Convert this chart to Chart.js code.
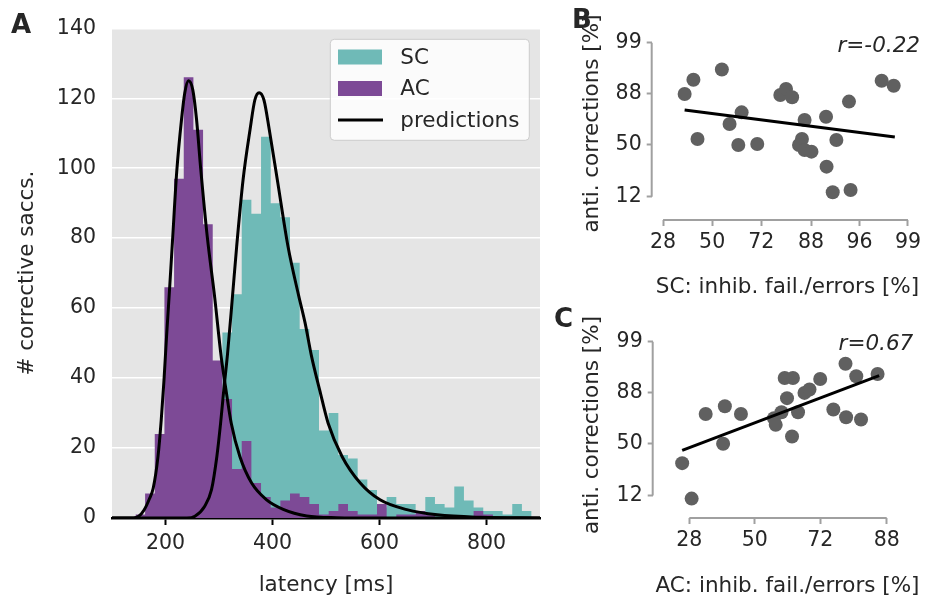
<!DOCTYPE html>
<html><head><meta charset="utf-8">
<script src="https://cdn.jsdelivr.net/npm/chart.js@4.4.1/dist/chart.umd.min.js"></script>
<style>
html,body{margin:0;padding:0;background:#fff;}
body{width:925px;height:598px;position:relative;overflow:hidden;font-family:'DejaVu Sans';}
canvas{position:absolute;}
#cA{left:0;top:0;}
#cB{left:555px;top:0;}
#cC{left:555px;top:300px;}
.panel{position:absolute;font-family:'DejaVu Sans';font-weight:bold;font-size:26px;color:#262626;line-height:26px;}
</style></head>
<body>
<canvas id="cA" width="555" height="598"></canvas>
<canvas id="cB" width="370" height="300"></canvas>
<canvas id="cC" width="370" height="298"></canvas>
<div class="panel" style="left:11px;top:11px;">A</div>
<div class="panel" style="left:572px;top:6px;">B</div>
<div class="panel" style="left:554px;top:305px;">C</div>
<script>
// ---------------- DATA ----------------
// Panel A: histogram of corrective saccade latencies (ms), common bins
const binStart = 143.8;   // ms, left edge of first bin
const binWidth = 18.06;   // ms
const acCounts = [1,7,24,66,97,126,111,84,45,34,14,22,10,6,3,5,7,6,4,1,2,4,2,1,1,4,0,1,1,2,1,0,0,0,0,2,1,0,0,0,0];
const scCounts = [0,0,0,0,0,0,1,6,20,53,64,91,87,109,90,86,73,54,48,25,30,18,17,11,8,3,6,4,4,1,6,4,3,9,5,3,2,2,1,4,2];
// model predictions
const acPredLatency = [100,140,150,160,170,177,186,192,197,202,207,213,221,230,236,243,251,258,266,278,292,304,313,323,339,361,389,420,464,520,600,900];
const acPredCount   = [0,0,0.5,2.3,5.5,8.5,17.6,28,39,52,64,79,99,114,121.5,125,122.4,114,99.5,80.5,63,46.2,36.7,27,17.6,10,5.2,2.5,0.6,0.1,0,0];
const scPredLatency = [100,240,255,273,286,296,303,309,316,325,333,345,358,367,375,384,394,409,429,449,461,473,488,504,530,564,601,651,708,789,900];
const scPredCount   = [0,0,0.5,3.3,8.1,17.6,27.1,36.7,47,63,77.6,96.7,111,119.5,121.6,119.5,111,96.7,77.6,63.5,55.7,46.2,36.7,27.1,17.6,10,5.2,2.4,0.9,0.2,0];
const aXTicks = [200,400,600,800];
const aYTicks = [0,20,40,60,80,100,120,140];
const legendLabels = ['SC','AC','predictions'];

// Panel B: SC inhibition failures/errors vs anti corrections (%)
const bX = [37.2,41.2,54.6,43.1,58.2,63.7,62.2,70.4,79.1,81.0,82.9,86.4,85.7,84.9,86.4,88.1,91.2,93.0,91.3,92.4,95.0,94.8,97.8,98.45];
const bY = [87.7,93.1,95.7,55.4,68.4,77.1,50.0,50.9,87.2,89.9,86.1,71.5,55.4,50.0,45.5,44.0,74.0,54.5,31.1,14.1,15.3,83.8,92.8,91.1];
const bFitX = [37.2,98.5];
const bFitY = [78.7,57.2];
const bXTicks = [28,50,72,88,96,99];
const bYTicks = [12,50,88,99];
const bR = 'r=-0.22';

// Panel C: AC inhibition failures/errors vs anti corrections (%)
const cX = [25.9,28.7,33.1,39.5,38.9,45.1,56.8,57.4,59.4,60.5,63.3,61.3,65.0,63.0,67.1,68.7,72.0,75.8,79.2,79.05,81.7,82.8,86.3];
const cY = [33.0,10.6,75.2,80.4,50.0,75.2,72.0,66.7,76.4,93.3,93.3,85.1,76.4,56.6,87.7,89.2,93.0,78.3,72.8,96.6,93.8,71.0,94.4];
const cFitX = [25.9,86.6];
const cFitY = [44.0,94.0];
const cXTicks = [28,50,72,88];
const cYTicks = [12,50,88,99];
const cR = 'r=0.67';

const yTitleBC = 'anti. corrections [%]';
const xTitleB = 'SC: inhib. fail./errors [%]';
const xTitleC = 'AC: inhib. fail./errors [%]';

// ---------------- HELPERS ----------------
// inverse normal CDF (probit), Acklam's approximation
function probit(p){
  const a=[-3.969683028665376e+01,2.209460984245205e+02,-2.759285104469687e+02,1.383577518672690e+02,-3.066479806614716e+01,2.506628277459239e+00];
  const b=[-5.447609879822406e+01,1.615858368580409e+02,-1.556989798598866e+02,6.680131188771972e+01,-1.328068155288572e+01];
  const c=[-7.784894002430293e-03,-3.223964580411365e-01,-2.400758277161838e+00,-2.549732539343734e+00,4.374664141464968e+00,2.938163982698783e+00];
  const d=[7.784695709041462e-03,3.224671290700398e-01,2.445134137142996e+00,3.754408661907416e+00];
  const pl=0.02425, ph=1-pl; let q,r;
  if(p<pl){q=Math.sqrt(-2*Math.log(p));return (((((c[0]*q+c[1])*q+c[2])*q+c[3])*q+c[4])*q+c[5])/((((d[0]*q+d[1])*q+d[2])*q+d[3])*q+1);}
  if(p<=ph){q=p-0.5;r=q*q;return (((((a[0]*r+a[1])*r+a[2])*r+a[3])*r+a[4])*r+a[5])*q/(((((b[0]*r+b[1])*r+b[2])*r+b[3])*r+b[4])*r+1);}
  q=Math.sqrt(-2*Math.log(1-p));return -(((((c[0]*q+c[1])*q+c[2])*q+c[3])*q+c[4])*q+c[5])/((((d[0]*q+d[1])*q+d[2])*q+d[3])*q+1);
}
const pz = v => probit(v/100);

Chart.defaults.font.family = "'DejaVu Sans'";
Chart.defaults.color = '#262626';

const TEXT = '#262626';
const AC_COLOR = '#7d4a96';
const SC_COLOR = '#6fbab7';
const TICK_FONT = {size:20.5};
const LABEL_FONT = {size:21.5};

function histPoints(counts){
  const pts = counts.map((c,i)=>({x: binStart + i*binWidth, y: c}));
  pts.push({x: binStart + counts.length*binWidth, y: counts[counts.length-1]});
  return pts;
}

const bgPlugin = {
  id:'plotBg',
  beforeDraw(chart){
    const {ctx, chartArea:a} = chart;
    ctx.save(); ctx.fillStyle = '#e5e5e5';
    ctx.fillRect(a.left, a.top, a.right-a.left, a.bottom-a.top);
    ctx.restore();
  }
};

const legendPlugin = {
  id:'boxLegend',
  afterDraw(chart){
    const {ctx, chartArea:a} = chart;
    const w = 199, h = 101;
    const left = a.right - 10.7 - w, top = a.top + 11;
    ctx.save();
    ctx.beginPath();
    ctx.roundRect(left, top, w, h, 4);
    ctx.fillStyle = 'rgba(255,255,255,0.85)';
    ctx.fill();
    ctx.strokeStyle = '#cccccc'; ctx.lineWidth = 1;
    ctx.stroke();
    ctx.font = "21.5px 'DejaVu Sans'";
    ctx.textBaseline = 'middle';
    ctx.fillStyle = TEXT;
    legendLabels.forEach((lab, i) => {
      const ds = chart.data.datasets.find(d => d.label === lab);
      const cy = top + 17.7 + i*31.5;
      const px = left + 7.7;
      if (ds.fill) {
        ctx.fillStyle = ds.backgroundColor;
        ctx.fillRect(px, cy-7.5, 44, 15);
      } else {
        ctx.strokeStyle = ds.borderColor; ctx.lineWidth = 3;
        ctx.beginPath(); ctx.moveTo(px, cy); ctx.lineTo(px+45, cy); ctx.stroke();
      }
      ctx.fillStyle = TEXT;
      ctx.fillText(lab, left + 70, cy + 1);
    });
    ctx.restore();
  }
};

// ---------------- PANEL A ----------------
new Chart(document.getElementById('cA'), {
  type:'line',
  data:{datasets:[
    {label:'predictions', data: acPredLatency.map((x,i)=>({x, y: acPredCount[i]})), borderColor:'#000', borderWidth:3,
     pointRadius:0, cubicInterpolationMode:'monotone', fill:false, order:0},
    {label:'predictions', data: scPredLatency.map((x,i)=>({x, y: scPredCount[i]})), borderColor:'#000', borderWidth:3,
     pointRadius:0, cubicInterpolationMode:'monotone', fill:false, order:0},
    {label:'AC', data: histPoints(acCounts), stepped:true, fill:'origin', backgroundColor:AC_COLOR, borderColor:AC_COLOR,
     borderWidth:0, pointRadius:0, order:1},
    {label:'SC', data: histPoints(scCounts), stepped:true, fill:'origin', backgroundColor:SC_COLOR, borderColor:SC_COLOR,
     borderWidth:0, pointRadius:0, order:2}
  ]},
  options:{
    responsive:false, animation:false, devicePixelRatio:1, events:[],
    layout:{padding:{top:28, right:15, bottom:0, left:0}},
    plugins:{legend:{display:false}, tooltip:{enabled:false}},
    scales:{
      x:{type:'linear', min:100, max:900, z:1,
         afterBuildTicks: s => { s.ticks = aXTicks.map(v=>({value:v})); },
         afterFit: s => { s.height = 80; },
         grid:{display:true, drawOnChartArea:false, drawTicks:true, tickLength:7, tickColor:'#000', tickWidth:2},
         border:{display:true, color:'#000', width:2.5},
         ticks:{font:TICK_FONT, color:TEXT, padding:6, autoSkip:false, maxRotation:0, callback:(v)=>String(v)},
         title:{display:true, text:'latency [ms]', font:LABEL_FONT, color:TEXT, padding:{top:0, bottom:0}}},
      y:{type:'linear', min:0, max:140,
         afterBuildTicks: s => { s.ticks = aYTicks.map(v=>({value:v})); },
         afterFit: s => { s.width = 112; },
         grid:{color:'#ffffff', lineWidth:1.5, drawTicks:false},
         border:{display:false},
         ticks:{font:TICK_FONT, color:TEXT, padding:16, callback:(v)=>String(v)},
         title:{display:true, text:'# corrective saccs.', font:LABEL_FONT, color:TEXT, padding:{top:15, bottom:0}}}
    }
  },
  plugins:[bgPlugin, legendPlugin]
});

// ---------------- PANELS B & C ----------------
const spinePlugin = {
  id:'trimSpines',
  afterDraw(chart, args, opts){
    const {ctx, chartArea:a, scales:{x, y}} = chart;
    const xt = x.ticks, yt = y.ticks;
    ctx.save();
    ctx.strokeStyle = '#a0a0a0'; ctx.lineWidth = 2; ctx.lineCap = 'butt';
    ctx.beginPath();
    ctx.moveTo(a.left, y.getPixelForValue(yt[0].value));
    ctx.lineTo(a.left, y.getPixelForValue(yt[yt.length-1].value));
    ctx.moveTo(x.getPixelForValue(xt[0].value), a.bottom);
    ctx.lineTo(x.getPixelForValue(xt[xt.length-1].value), a.bottom);
    ctx.stroke();
    // correlation annotation
    ctx.font = "italic 21.5px 'DejaVu Sans'";
    ctx.fillStyle = TEXT; ctx.textAlign = 'right'; ctx.textBaseline = 'alphabetic';
    ctx.fillText(opts.text, opts.x, opts.y);
    // axis titles (drawn without width compression)
    ctx.font = "21.5px 'DejaVu Sans'";
    ctx.textAlign = 'center';
    ctx.fillText(opts.xTitle, opts.xTitlePos[0], opts.xTitlePos[1]);
    ctx.translate(opts.yTitlePos[0], opts.yTitlePos[1]);
    ctx.rotate(-Math.PI/2);
    ctx.fillText(opts.yTitle, 0, 0);
    ctx.restore();
  }
};

function scatterPanel(id, xs, ys, fitX, fitY, xTicks, yTicks, xMin, xMax, yMin, yMax, xTitle, rText, rPos, padR, padT, yW, xTitlePos, yTitlePos){
  new Chart(document.getElementById(id), {
    type:'scatter',
    data:{datasets:[
      {label:'fit', data: fitX.map((v,i)=>({x: pz(v), y: pz(fitY[i])})), showLine:true, borderColor:'#000', borderWidth:3,
       pointRadius:0, order:0},
      {label:'subjects', data: xs.map((v,i)=>({x: pz(v), y: pz(ys[i])})), backgroundColor:'#606060', borderWidth:0,
       pointRadius:7, clip:false, order:1}
    ]},
    options:{
      responsive:false, animation:false, devicePixelRatio:1, events:[],
      layout:{padding:{top:padT, right:padR, bottom:0, left:0}},
      plugins:{legend:{display:false}, tooltip:{enabled:false},
               trimSpines:{text:rText, x:rPos[0], y:rPos[1], xTitle, yTitle:yTitleBC, xTitlePos, yTitlePos}},
      scales:{
        x:{type:'linear', min:xMin, max:xMax,
           afterBuildTicks: s => { s.ticks = xTicks.map(v=>({value: pz(v)})); },
           afterFit: s => { s.height = 80; },
           grid:{display:true, drawOnChartArea:false, drawTicks:true, tickLength:6, tickColor:'#a0a0a0', tickWidth:2},
           border:{display:false},
           ticks:{font:TICK_FONT, color:TEXT, padding:4, autoSkip:false, maxRotation:0, callback:(v,i)=>String(xTicks[i])},
           title:{display:false}},
        y:{type:'linear', min:yMin, max:yMax,
           afterBuildTicks: s => { s.ticks = yTicks.map(v=>({value: pz(v)})); },
           afterFit: s => { s.width = yW; },
           grid:{display:true, drawOnChartArea:false, drawTicks:true, tickLength:5, tickColor:'#a0a0a0', tickWidth:2},
           border:{display:false},
           ticks:{font:TICK_FONT, color:TEXT, padding:5, autoSkip:false, callback:(v,i)=>String(yTicks[i])},
           title:{display:false}}
      }
    },
    plugins:[spinePlugin]
  });
}

scatterPanel('cB', bX, bY, bFitX, bFitY, bXTicks, bYTicks, -0.718, probit(0.99), -1.706, probit(0.99),
  xTitleB, bR, [365, 51.7], 11.7, 42.7, 96.7, [232.5, 293], [43, 123.5]);
scatterPanel('cC', cX, cY, cFitX, cFitY, cXTicks, cYTicks, -0.909, probit(0.88), -1.690, probit(0.99),
  xTitleC, cR, [358.3, 50], 38.3, 41.7, 97.7, [232.5, 291.7], [43, 125]);
</script>
</body></html>
